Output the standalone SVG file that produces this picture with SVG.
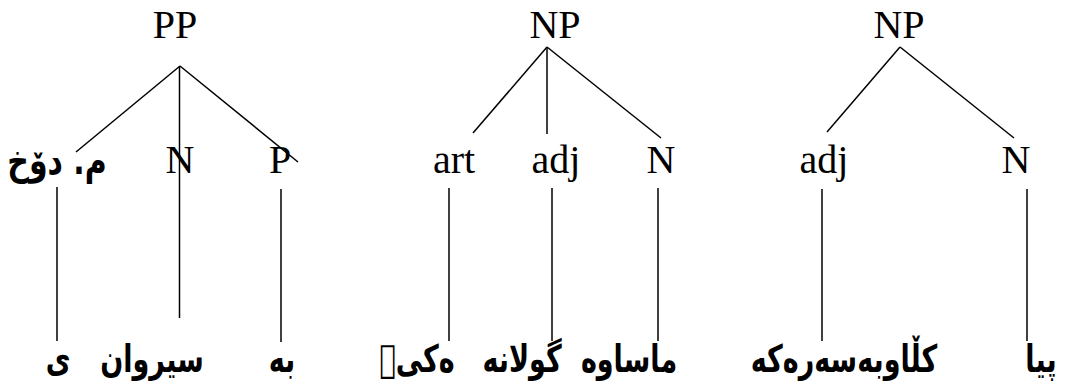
<svg xmlns="http://www.w3.org/2000/svg" width="1074" height="389" viewBox="0 0 1074 389">
<style>
.lat{font-family:"Liberation Serif","Times New Roman",serif;font-size:40px;fill:#000;text-anchor:middle}
.ar{font-family:"DejaVu Sans",sans-serif;font-weight:bold;font-size:27px;fill:#000;text-anchor:middle;direction:rtl}
.edge{stroke:#000;stroke-width:1.5;fill:none}
</style>
<rect width="1074" height="389" fill="#fff"/>
<g id="connectors">
<line class="edge" x1="180" y1="66" x2="76" y2="152"/>
<line class="edge" x1="179.5" y1="66" x2="179.5" y2="318"/>
<line class="edge" x1="180" y1="66" x2="298" y2="162"/>
<line class="edge" x1="57" y1="187" x2="57" y2="341"/>
<line class="edge" x1="281" y1="189" x2="281" y2="342"/>
<line class="edge" x1="547" y1="47" x2="473" y2="133"/>
<line class="edge" x1="547" y1="47" x2="547" y2="134"/>
<line class="edge" x1="547" y1="47" x2="661" y2="138"/>
<line class="edge" x1="449" y1="188" x2="449" y2="341"/>
<line class="edge" x1="552" y1="188" x2="552" y2="341"/>
<line class="edge" x1="658" y1="188" x2="658" y2="341"/>
<line class="edge" x1="900" y1="47" x2="827" y2="132"/>
<line class="edge" x1="900" y1="47" x2="1014" y2="138"/>
<line class="edge" x1="822" y1="189" x2="822" y2="341"/>
<line class="edge" x1="1027" y1="189" x2="1027" y2="341"/>
</g>
<g id="pp"><text class="lat" x="175" y="38">PP</text></g>
<g id="np1"><text class="lat" x="555" y="38">NP</text></g>
<g id="np2"><text class="lat" x="899" y="38">NP</text></g>
<g id="pp-mdox"><text class="ar" style="font-size:30px" transform="translate(57,174) scale(1,1.3)">م. دۆخ</text></g>
<g id="pp-n"><text class="lat" x="180" y="173">N</text></g>
<g id="pp-p"><text class="lat" x="280" y="173">P</text></g>
<g id="np1-art"><text class="lat" x="454" y="173">art</text></g>
<g id="np1-adj"><text class="lat" x="556" y="173">adj</text></g>
<g id="np1-n"><text class="lat" x="661" y="173">N</text></g>
<g id="np2-adj"><text class="lat" x="824" y="173">adj</text></g>
<g id="np2-n"><text class="lat" x="1016" y="173">N</text></g>
<g id="w-y"><text class="ar" transform="translate(58,372) scale(1,1.4)">ی</text></g>
<g id="w-sirwan"><text class="ar" transform="translate(152,372) scale(1,1.4)">سیروان</text></g>
<g id="w-be"><text class="ar" transform="translate(282,372) scale(1,1.4)">به</text></g>
<g id="w-eki"><text class="ar" transform="translate(417,372) scale(1,1.4)">ەکی&#xF020;</text></g>
<g id="w-gulane"><text class="ar" transform="translate(522,372) scale(1,1.4)">گولانه</text></g>
<g id="w-masawe"><text class="ar" transform="translate(629,372) scale(1,1.4)">ماساوه</text></g>
<g id="w-klaw"><text class="ar" transform="translate(844,372) scale(1,1.4)">کڵاوبەسەرەکە</text></g>
<g id="w-pya"><text class="ar" transform="translate(1041,372) scale(1,1.4)">پیا</text></g>
</svg>
